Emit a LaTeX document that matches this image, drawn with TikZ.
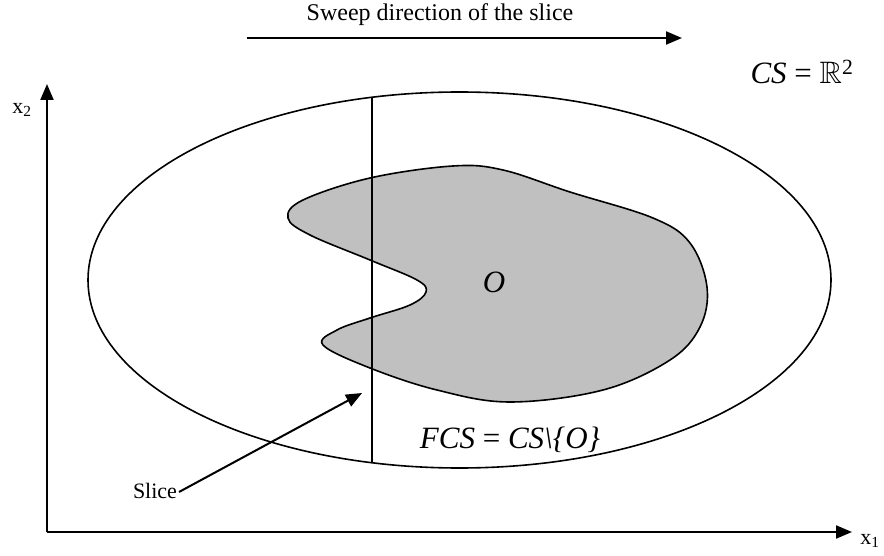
\documentclass[tikz,border=0pt]{standalone}
\usepackage{amssymb}
\usepackage{fontspec}
\setmainfont{Liberation Serif}
\usetikzlibrary{arrows.meta,shapes.geometric}
\begin{document}
\begin{tikzpicture}[x=1pt,y=-1pt,
  lbl/.style={inner sep=0pt,font=\fontsize{22}{26}\selectfont},
  mlbl/.style={inner sep=0pt,font=\fontsize{31}{36}\selectfont\itshape},
  axis/.style={line width=2.2pt,-{Triangle[length=16pt,width=13pt]}},
  thin/.style={line width=1.4pt}]
\useasboundingbox (0,0) rectangle (884,556);
% ellipse (free configuration space)
\node[draw,ellipse,line width=1.6pt,minimum width=743pt,minimum height=376pt,inner sep=0pt] (E) at (459.5,280) {};
% obstacle
\draw[line width=1.6pt,fill={rgb,255:red,192;green,192;blue,192}]
  plot[smooth cycle,tension=0.6] coordinates {
  (288,218) (303,200) (370,178) (453,166) (503,170) (570,192) (653,218) (690,243)
  (707,287) (700,327) (670,360) (603,390) (510,402) (437,390) (370,368) (323,345)
  (337,330) (370,318) (410,305) (426,292) (417,280) (370,260) (310,235)};
% slice
\coordinate (s1) at (372,97.3);
\coordinate (s2) at (372,462.7);
\draw[thin] (s1) -- (s2);
% axes
\coordinate (orig) at (47,532);
\coordinate (ytip) at (47,84);
\coordinate (xtip) at (852,532);
\draw[axis] (orig) -- (ytip);
\draw[axis] (orig) -- (xtip);
\node[lbl] (x2) at (22,110) {x$_{\mathrm 2}$};
\node[lbl] (x1) at (870,541) {x$_{\mathrm 1}$};
% sweep direction
\node[lbl,font=\fontsize{24}{28}\selectfont] (sweep) at (440,15) {Sweep direction of the slice};
\coordinate (sw1) at (247,38);
\coordinate (sw2) at (682,38);
\draw[axis] (sw1) -- (sw2);
% labels
\node[mlbl] (cs) at (802,72) {CS {\upshape =} {\upshape$\mathbb{R}^{\mathrm{2}}$}};
\node[mlbl] (O) at (494,282) {O};
\node[mlbl] (fcs) at (510,440) {FCS {\upshape =} CS\textbackslash\{O\}};
\node[lbl] (slice) at (155,491) {Slice};
\coordinate (sa) at (179,492);
\coordinate (sb) at (362,393);
\draw[axis,line width=2pt] (sa) -- (sb);
\end{tikzpicture}
\end{document}
